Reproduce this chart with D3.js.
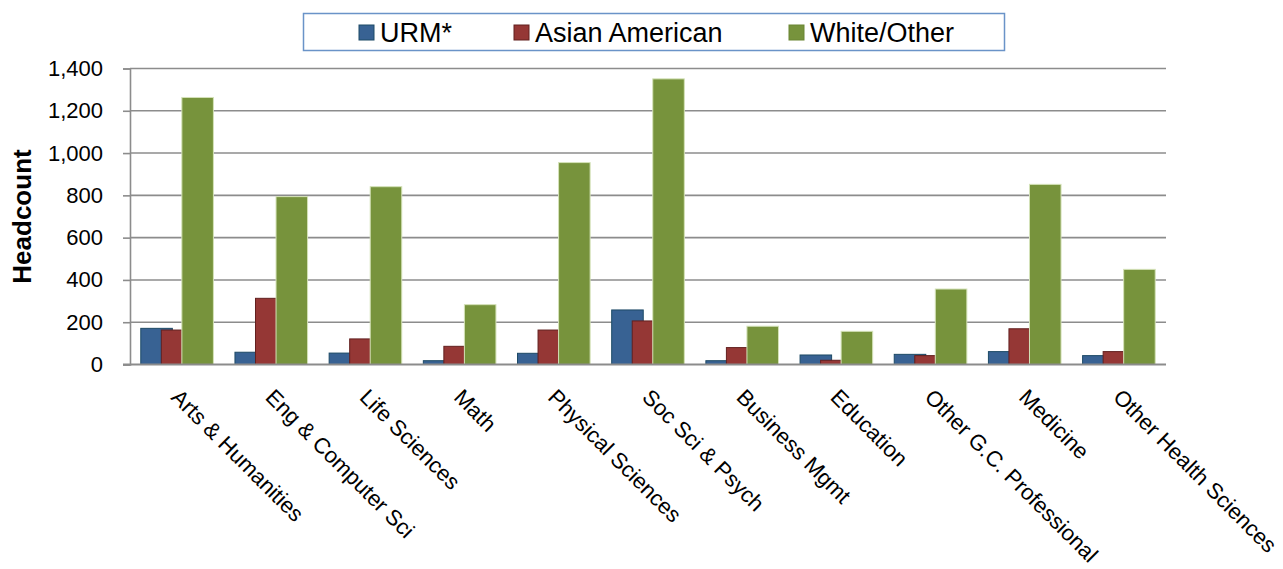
<!DOCTYPE html>
<html>
<head>
<meta charset="utf-8">
<script src="https://cdn.jsdelivr.net/npm/d3@7"></script>
<style>
  html, body { margin: 0; padding: 0; background: #fff; }
  svg { display: block; font-family: "Liberation Sans", Arial, sans-serif; }
</style>
</head>
<body>
<svg id="chart" width="1283" height="569"></svg>
<script>
// Graduate headcount by field and group
const categories = ["Arts & Humanities", "Eng & Computer Sci", "Life Sciences", "Math",
  "Physical Sciences", "Soc Sci & Psych", "Business Mgmt", "Education",
  "Other G.C. Professional", "Medicine", "Other Health Sciences"];
const seriesNames = ["URM*", "Asian American", "White/Other"];
const urm = [171, 58, 54, 18, 53, 258, 18, 45, 48, 61, 42];
const asianAmerican = [163, 313, 121, 86, 163, 206, 80, 20, 42, 169, 61];
const whiteOther = [1263, 794, 841, 283, 955, 1351, 181, 157, 357, 852, 450];
const yTicks = [0, 200, 400, 600, 800, 1000, 1200, 1400];

const seriesValues = [urm, asianAmerican, whiteOther];
const fills = ["#386293", "#953735", "#77933c"];
const strokes = ["#1d4a66", "#62201f", "#d4e2b8"];

const svg = d3.select("#chart");
const plot = { left: 130, right: 1166, top: 68.5, bottom: 364.5 };

const x = d3.scaleBand().domain(categories).range([plot.left, plot.right]).padding(0);
const y = d3.scaleLinear().domain([0, 1400]).range([plot.bottom, plot.top]);

const bw = x.bandwidth();
const barW = bw * 0.335;
const step = bw * 0.218;
const span = 2 * step + barW;
const inner = d3.scalePoint().domain(seriesNames).range([0, 2 * step]);
const offset = (bw - span) / 2;

// horizontal gridlines
svg.append("g")
  .selectAll("line")
  .data(yTicks.filter(d => d > 0))
  .join("line")
  .attr("x1", plot.left).attr("x2", plot.right)
  .attr("y1", d => y(d)).attr("y2", d => y(d))
  .attr("stroke", "#8c8c8c").attr("stroke-width", 1.6);

// y axis
const yAxis = d3.axisLeft(y).tickValues(yTicks).tickSize(7).tickPadding(20)
  .tickFormat(d3.format(","));
const gy = svg.append("g").attr("transform", `translate(${plot.left},0)`).call(yAxis);
gy.select(".domain").attr("stroke", "#8c8c8c").attr("stroke-width", 1.6);
gy.selectAll(".tick line").attr("stroke", "#8c8c8c").attr("stroke-width", 1.6);
gy.selectAll(".tick text").attr("font-size", 22).attr("fill", "#000")
  .attr("font-family", "Liberation Sans, Arial, sans-serif");

// bars
seriesNames.forEach((name, si) => {
  svg.append("g")
    .selectAll("rect")
    .data(categories.map((c, i) => ({ c, v: seriesValues[si][i] })))
    .join("rect")
    .attr("x", d => x(d.c) + offset + inner(name))
    .attr("y", d => y(d.v))
    .attr("width", barW)
    .attr("height", d => y(0) - y(d.v))
    .attr("fill", fills[si])
    .attr("stroke", strokes[si])
    .attr("stroke-width", 1);
});

// baseline
svg.append("line")
  .attr("x1", plot.left - 7).attr("x2", plot.right)
  .attr("y1", y(0)).attr("y2", y(0))
  .attr("stroke", "#8c8c8c").attr("stroke-width", 2);

// category labels, rotated 45 degrees
svg.append("g")
  .selectAll("text")
  .data(categories)
  .join("text")
  .attr("transform", d => `translate(${x(d) + bw / 2 - 7},${plot.bottom + 34}) rotate(45)`)
  .attr("text-anchor", "start")
  .attr("font-size", 22)
  .attr("fill", "#000")
  .text(d => d);

// y axis title
svg.append("text")
  .attr("transform", `translate(31,${(plot.top + plot.bottom) / 2}) rotate(-90)`)
  .attr("text-anchor", "middle")
  .attr("font-size", 26)
  .attr("font-weight", "bold")
  .text("Headcount");

// legend
const legend = svg.append("g");
legend.append("rect")
  .attr("x", 303.5).attr("y", 13.5).attr("width", 701).attr("height", 37)
  .attr("fill", "#fff").attr("stroke", "#6a93c8").attr("stroke-width", 1.5);
const legendX = [359, 514, 789];
seriesNames.forEach((name, si) => {
  legend.append("rect")
    .attr("x", legendX[si]).attr("y", 25).attr("width", 15).attr("height", 15)
    .attr("fill", fills[si]).attr("stroke", si === 2 ? "#6a8533" : strokes[si]).attr("stroke-width", 1);
  legend.append("text")
    .attr("x", legendX[si] + 21).attr("y", 42)
    .attr("font-size", 27).attr("fill", "#000")
    .text(name);
});
</script>
</body>
</html>
